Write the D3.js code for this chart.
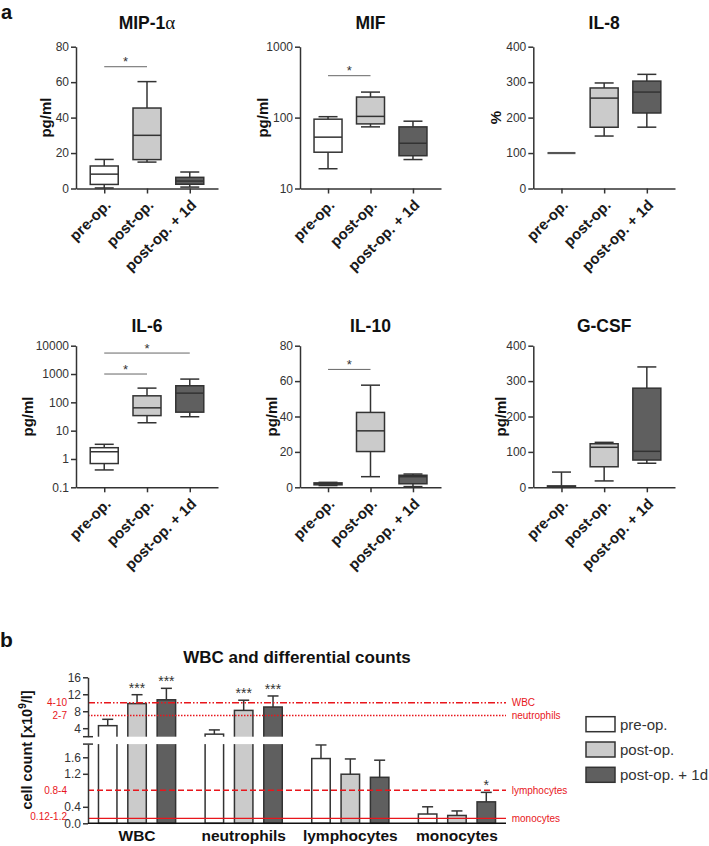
<!DOCTYPE html>
<html><head><meta charset="utf-8">
<script src="https://cdn.jsdelivr.net/npm/d3@7"></script>
<style>
body{margin:0;background:#fff}
svg{display:block}
text{font-family:"Liberation Sans",Arial,sans-serif}
</style>
</head><body>
<svg id="c" width="709" height="846"></svg>
<script>
// ---------- DATA ----------
const groups = ["pre-op.", "post-op.", "post-op. + 1d"];
const groupColors = ["#ffffff", "#cbcbcb", "#5f5f5f"];

// box stats per group: [whisker low, Q1, median, Q3, whisker high]
const mip1aBoxes = [[0.3, 2.3, 8.1, 12.7, 16.4], [14.9, 16.3, 30, 45.4, 60.3], [0.8, 2.4, 4.2, 6.3, 9.3]];
const mifBoxes   = [[19, 32.5, 53, 95, 103], [74, 81.5, 104, 195, 229], [25.6, 29, 43.5, 74, 89]];
const il8Boxes   = [[100, 100, 100, 100, 100], [148, 172.8, 255, 283.6, 297.7], [173, 213, 272, 303, 322]];
const il6Boxes   = [[0.41, 0.69, 1.8, 2.5, 3.3], [19, 34, 64, 170, 318], [31, 45, 211, 385, 662]];
const il10Boxes  = [[1, 1.4, 2, 2.5, 2.8], [6, 20.2, 31.9, 42.3, 57.7], [0.4, 2, 6, 6.8, 7.5]];
const gcsfBoxes  = [[0, 0, 2, 4, 43], [18, 58, 113, 123, 127], [68, 77, 101.6, 280, 340]];

// significance brackets: [from group index, to group index, level in data units, label]
const mip1aSig = [[0, 1, 68.7, "*"]];
const mifSig   = [[0, 1, 390, "*"]];
const il8Sig   = [];
const il6Sig   = [[0, 1, 1000, "*"], [0, 2, 5500, "*"]];
const il10Sig  = [[0, 1, 66.6, "*"]];
const gcsfSig  = [];

const linTicks80 = [0, 20, 40, 60, 80];
const linTicks400 = [0, 100, 200, 300, 400];
const mifTicks = [10, 100, 1000];
const il6Ticks = [0.1, 1, 10, 100, 1000, 10000];

// panel b
const cellTypes = ["WBC", "neutrophils", "lymphocytes", "monocytes"];
const preOpMean    = [4.6, 2.6, 1.57, 0.225];
const preOpSD      = [1.5, 1.0, 0.33, 0.175];
const postOpMean   = [9.8, 8.2, 1.19, 0.19];
const postOpSD     = [2.1, 2.4, 0.37, 0.11];
const postOp1dMean = [10.7, 9.0, 1.115, 0.52];
const postOp1dSD   = [2.7, 2.6, 0.415, 0.23];
const preOpStars    = ["", "", "", ""];
const postOpStars   = ["***", "***", "", ""];
const postOp1dStars = ["***", "***", "", "*"];
const refRanges = ["4-10", "2-7", "0.8-4", "0.12-1.2"];
const refNames  = ["WBC", "neutrophils", "lymphocytes", "monocytes"];
const refLevels = [10, 7, 0.8, 0.12];
const upperTicks = [4, 8, 12, 16];
const lowerTicks = [0, 0.4, 1.2, 1.6];

// ---------- LAYOUT ----------
const AX = "#333";
const svg = d3.select("#c");

svg.append("text").attr("x", 1).attr("y", 19).attr("font-size", 20).attr("font-weight", "bold").attr("fill", "#111").text("a");

const rows = [[188.5, 46.7], [487.3, 345.7]];
const cols = [[76, 218], [300, 441], [533.3, 675]];
const titleY = [29.3, 331.5];

const panels = [
  {title: "MIP-1", greek: "α", ylabel: "pg/ml", data: mip1aBoxes, sig: mip1aSig, log: false, domain: [0, 80], ticks: linTicks80, r: 0, c: 0, off: 29.5},
  {title: "MIF", ylabel: "pg/ml", data: mifBoxes, sig: mifSig, log: true, domain: [10, 1000], ticks: mifTicks, r: 0, c: 1, off: 36.7},
  {title: "IL-8", ylabel: "%", data: il8Boxes, sig: il8Sig, log: false, domain: [0, 400], ticks: linTicks400, r: 0, c: 2, off: 36.6},
  {title: "IL-6", ylabel: "pg/ml", data: il6Boxes, sig: il6Sig, log: true, domain: [0.1, 10000], ticks: il6Ticks, r: 1, c: 0, off: 47.7},
  {title: "IL-10", ylabel: "pg/ml", data: il10Boxes, sig: il10Sig, log: false, domain: [0, 80], ticks: linTicks80, r: 1, c: 1, off: 27.8},
  {title: "G-CSF", ylabel: "pg/ml", data: gcsfBoxes, sig: gcsfSig, log: false, domain: [0, 400], ticks: linTicks400, r: 1, c: 2, off: 31.6}
];

const boxW = 28, capW = 19;

panels.forEach(p => {
  const g = svg.append("g");
  const xr = cols[p.c], yr = rows[p.r];
  const x = d3.scalePoint().domain(groups).range(xr).padding(0.66);
  const y = (p.log ? d3.scaleLog() : d3.scaleLinear()).domain(p.domain).range(yr);

  // title
  const t = g.append("text").attr("x", (xr[0] + xr[1]) / 2).attr("y", titleY[p.r])
    .attr("text-anchor", "middle").attr("font-size", 17.5).attr("font-weight", "bold").attr("fill", "#111");
  t.append("tspan").text(p.title);
  if (p.greek) t.append("tspan").attr("font-family", '"Liberation Serif", serif').attr("font-weight", "normal").attr("font-size", 19).text(p.greek);

  // y label
  const ym = (yr[0] + yr[1]) / 2;
  g.append("text").attr("transform", `translate(${xr[0] - p.off},${ym}) rotate(-90)`)
    .attr("text-anchor", "middle").attr("dy", "0.3em").attr("font-size", 15).attr("font-weight", "bold").attr("fill", "#111").text(p.ylabel);

  // boxes
  p.data.forEach((b, i) => {
    const cx = x(groups[i]);
    const flat = b[3] === b[1];
    const bg = g.append("g").attr("stroke", AX).attr("stroke-width", 1.5).attr("fill", "none");
    bg.append("line").attr("x1", cx).attr("x2", cx).attr("y1", y(b[0])).attr("y2", y(b[1]));
    bg.append("line").attr("x1", cx).attr("x2", cx).attr("y1", y(b[3])).attr("y2", y(b[4]));
    bg.append("line").attr("x1", cx - capW / 2).attr("x2", cx + capW / 2).attr("y1", y(b[0])).attr("y2", y(b[0]));
    bg.append("line").attr("x1", cx - capW / 2).attr("x2", cx + capW / 2).attr("y1", y(b[4])).attr("y2", y(b[4]));
    bg.append("rect").attr("x", cx - boxW / 2).attr("width", boxW).attr("y", y(b[3])).attr("height", Math.max(0, y(b[1]) - y(b[3])))
      .attr("fill", groupColors[i]);
    bg.append("line").attr("x1", cx - boxW / 2).attr("x2", cx + boxW / 2).attr("y1", y(b[2])).attr("y2", y(b[2]))
      .attr("stroke", flat ? "#555" : AX).attr("stroke-width", flat ? 2.2 : 1.5);
  });

  // significance
  p.sig.forEach(s => {
    const x1 = x(groups[s[0]]), x2 = x(groups[s[1]]), yy = y(s[2]);
    g.append("line").attr("x1", x1).attr("x2", x2).attr("y1", yy).attr("y2", yy).attr("stroke", "#666").attr("stroke-width", 1);
    g.append("text").attr("x", (x1 + x2) / 2).attr("y", yy - 0.5).attr("text-anchor", "middle").attr("font-size", 13).attr("fill", "#333").text(s[3]);
  });

  // axes
  const ya = g.append("g").attr("transform", `translate(${xr[0]},0)`).attr("color", AX)
    .call(d3.axisLeft(y).tickValues(p.ticks).tickFormat(d => String(d)).tickSize(5).tickSizeOuter(0).tickPadding(2));
  ya.selectAll("path,line").attr("stroke-width", 1.5);
  ya.selectAll("text").attr("font-size", 12).attr("fill", "#333").style("font-family", '"Liberation Sans",Arial,sans-serif');

  const xa = g.append("g").attr("transform", `translate(0,${yr[0]})`).attr("color", AX)
    .call(d3.axisBottom(x).tickSize(5).tickSizeOuter(0).tickFormat(""));
  xa.selectAll("path,line").attr("stroke-width", 1.5);

  groups.forEach(gr => {
    g.append("text").attr("transform", `translate(${x(gr) + 7.5},${yr[0] + 17.5}) rotate(-45)`)
      .attr("text-anchor", "end").attr("font-size", 15).attr("font-weight", "bold").attr("fill", "#1a1a1a").text(gr);
  });
});

// ---------- PANEL B ----------
svg.append("text").attr("x", 0).attr("y", 647).attr("font-size", 21).attr("font-weight", "bold").attr("fill", "#111").text("b");

const bx = [88, 506];
const yUpper = d3.scaleLinear().domain([2, 16]).range([736.7, 677.3]);
const yLower = d3.scaleLinear().domain([0, 1.92]).range([823.3, 744.1]);
const yb = v => v > 1.92 ? yUpper(Math.max(v, 2)) : yLower(v);
const xg = d3.scalePoint().domain(cellTypes).range(bx).padding(0.46);
const series = [
  {name: groups[0], mean: preOpMean, sd: preOpSD, stars: preOpStars, color: groupColors[0]},
  {name: groups[1], mean: postOpMean, sd: postOpSD, stars: postOpStars, color: groupColors[1]},
  {name: groups[2], mean: postOp1dMean, sd: postOp1dSD, stars: postOp1dStars, color: groupColors[2]}
];
const xs = d3.scaleBand().domain(groups).range([-44, 44]).paddingInner(0.37).paddingOuter(0.185);

const gb = svg.append("g");
gb.append("text").attr("x", (bx[0] + bx[1]) / 2).attr("y", 663).attr("text-anchor", "middle")
  .attr("font-size", 17).attr("font-weight", "bold").attr("fill", "#111").text("WBC and differential counts");

// y label
const yl = gb.append("text").attr("transform", "translate(27,750) rotate(-90)").attr("text-anchor", "middle")
  .attr("dy", "0.35em").attr("font-size", 14.5).attr("font-weight", "bold").attr("fill", "#111");
yl.append("tspan").text("cell count [x10");
yl.append("tspan").attr("font-size", 10).attr("dy", -6).text("9");
yl.append("tspan").attr("dy", 6).text("/l]");

// bars + error bars
series.forEach(s => {
  cellTypes.forEach((ct, i) => {
    const x0 = xg(ct) + xs(s.name), w = xs.bandwidth(), cx = x0 + w / 2;
    const top = yb(s.mean[i]), errTop = yb(s.mean[i] + s.sd[i]);
    gb.append("line").attr("x1", cx).attr("x2", cx).attr("y1", top).attr("y2", errTop).attr("stroke", AX).attr("stroke-width", 1.5);
    gb.append("line").attr("x1", cx - 5.5).attr("x2", cx + 5.5).attr("y1", errTop).attr("y2", errTop).attr("stroke", AX).attr("stroke-width", 1.5);
    gb.append("rect").attr("x", x0).attr("width", w).attr("y", top).attr("height", yLower(0) - top)
      .attr("fill", s.color).attr("stroke", AX).attr("stroke-width", 1.5);
    if (s.stars[i]) gb.append("text").attr("x", cx).attr("y", errTop - 2).attr("text-anchor", "middle")
      .attr("font-size", 14).attr("fill", "#333").text(s.stars[i]);
  });
});

// gap (axis break)
gb.append("rect").attr("x", bx[0] + 1).attr("width", bx[1] - bx[0]).attr("y", yUpper(2)).attr("height", yLower(1.92) - yUpper(2)).attr("fill", "#fff");

// reference lines
const RED = "#e8161c";
const refScale = [yUpper, yUpper, yLower, yLower];
const refDash = ["7,2,1.5,2,1.5,2", "1.5,1.5", "6,3", null];
refLevels.forEach((lv, i) => {
  const yy = refScale[i](lv);
  gb.append("line").attr("x1", bx[0]).attr("x2", bx[1]).attr("y1", yy).attr("y2", yy)
    .attr("stroke", RED).attr("stroke-width", 1.4).attr("stroke-dasharray", refDash[i]);
  gb.append("text").attr("x", 67).attr("y", yy).attr("dy", i === 3 ? "0.2em" : "0.35em").attr("text-anchor", "end")
    .attr("font-size", 10).attr("fill", RED).text(refRanges[i]);
  gb.append("text").attr("x", 511.7).attr("y", yy).attr("dy", "0.35em").attr("font-size", 10).attr("fill", RED).text(refNames[i]);
});

// axes
const ua = gb.append("g").attr("transform", `translate(${bx[0]},0)`).attr("color", AX)
  .call(d3.axisLeft(yUpper).tickValues(upperTicks).tickSize(5).tickSizeOuter(0).tickPadding(2));
const la = gb.append("g").attr("transform", `translate(${bx[0]},0)`).attr("color", AX)
  .call(d3.axisLeft(yLower).tickValues(lowerTicks).tickFormat(d3.format(".1f")).tickSize(5).tickSizeOuter(0).tickPadding(2));
[ua, la].forEach(a => {
  a.selectAll("path,line").attr("stroke-width", 1.5);
  a.selectAll("text").attr("font-size", 12).attr("fill", "#333").style("font-family", '"Liberation Sans",Arial,sans-serif');
});
[yUpper(2), yLower(1.92)].forEach(yy => {
  gb.append("line").attr("x1", bx[0] - 5).attr("x2", bx[0] + 5).attr("y1", yy).attr("y2", yy).attr("stroke", AX).attr("stroke-width", 1.5);
});
gb.append("line").attr("x1", bx[0]).attr("x2", bx[1]).attr("y1", yLower(0)).attr("y2", yLower(0)).attr("stroke", "#111").attr("stroke-width", 1.5);

cellTypes.forEach(ct => {
  gb.append("text").attr("x", xg(ct)).attr("y", 841).attr("text-anchor", "middle").attr("font-size", 15.5)
    .attr("font-weight", "bold").attr("fill", "#111").text(ct);
});

// legend
series.forEach((s, i) => {
  const ly = 716.7 + i * 25.3;
  gb.append("rect").attr("x", 586).attr("y", ly).attr("width", 29).attr("height", 15).attr("fill", s.color).attr("stroke", AX).attr("stroke-width", 1.5);
  gb.append("text").attr("x", 620).attr("y", ly + 13).attr("font-size", 15).attr("fill", "#333").text(s.name);
});
</script>
</body></html>
